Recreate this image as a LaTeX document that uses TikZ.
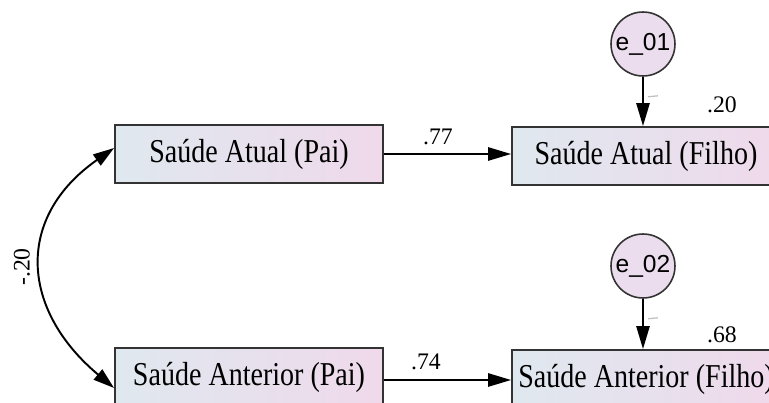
\documentclass[tikz,border=0pt]{standalone}
\usepackage{fontspec}
\setmainfont{Liberation Serif}
\newfontfamily\boxfont[FakeStretch=0.84]{Liberation Serif}
\newfontfamily\errfont{Liberation Sans}
\usetikzlibrary{arrows.meta,calc}
\definecolor{boxleft}{HTML}{DFE8EF}
\definecolor{boxright}{HTML}{EFD9EB}
\definecolor{errfill}{HTML}{ECDDEE}
\definecolor{edgegray}{HTML}{333333}

\begin{document}
\begin{tikzpicture}[
    x=0.02cm, y=0.02cm,
    obs/.style={rectangle, draw=edgegray, line width=1.1pt, left color=boxleft, right color=boxright, minimum width=5.36cm, minimum height=1.16cm, inner sep=0pt, font=\boxfont\fontsize{19}{22}\selectfont},
    err/.style={circle, draw=edgegray, line width=0.9pt, fill=errfill, minimum size=1.28cm, inner sep=0pt, font=\errfont\fontsize{14}{16}\selectfont},
    coef/.style={font=\fontsize{13.5}{16}\selectfont, inner sep=0pt},
    regr/.style={-{Triangle[length=13pt,width=7.5pt]}, line width=1.1pt},
    covar/.style={{Triangle[length=12pt,width=7.5pt]}-{Triangle[length=12pt,width=7.5pt]}, line width=1.1pt}
]
\useasboundingbox (0,0) rectangle (769,403);
\clip (0,0) rectangle (769,403);

\node[obs] (paiA) at (249,249) {Saúde Atual (Pai)};
\node[obs] (paiB) at (249,26) {Saúde Anterior (Pai)};
\node[obs] (filhoA) at (646,247) {Saúde Atual (Filho)};
\node[obs] (filhoB) at (646,24) {Saúde Anterior (Filho)};
\node[err] (e01) at (643,359) {e\_01};
\node[err] (e02) at (643,137) {e\_02};

\draw[regr] (paiA.east) -- (paiA.east -| filhoA.west);
\draw[regr] (paiB.east |- 0,23) -- (filhoB.west |- 0,23);
\draw[regr] (e01) -- (e01 |- filhoA.north);
\draw[regr] (e02) -- (e02 |- filhoB.north);
\draw[covar] ($(paiA.west)+(0,6)$) to[out=215, in=140, looseness=1.3] ($(paiB.west)+(0,-11)$);

% small weight marks beside the error paths
\draw[gray!50, line width=0.7pt] ($(e01.south)+(5,-20)$) -- ++(10,1);
\draw[gray!50, line width=0.7pt] ($(e02.south)+(5,-20)$) -- ++(10,1);

\node[coef] (w1) at (438,266) {.77};
\node[coef] (w2) at (426,41) {.74};
\node[coef] (r1) at (722,298) {.20};
\node[coef] (r2) at (722,68) {.68};
\node[coef, rotate=90] (cov) at (22,136) {-.20};
\end{tikzpicture}
\end{document}
